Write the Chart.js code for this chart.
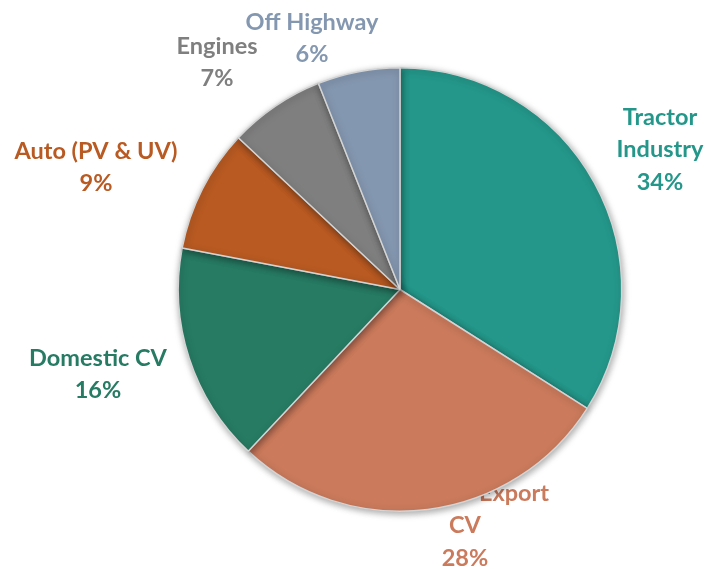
<!DOCTYPE html>
<html>
<head>
<meta charset="utf-8">
<script src="https://cdn.jsdelivr.net/npm/chart.js@4.4.1/dist/chart.umd.min.js"></script>
<style>
    html, body { margin: 0; padding: 0; background: #ffffff; }
    #wrap { width: 710px; height: 569px; position: relative; }
</style>
</head>
<body>
<div id="wrap"><canvas id="pieChart"></canvas></div>
<script>
// Segment share (%)
const categories = ['Tractor Industry', 'Export CV', 'Domestic CV', 'Auto (PV & UV)', 'Engines', 'Off Highway'];
const shares = [34, 28, 16, 9, 7, 6];
const sliceColors = ['#24978a', '#cb7a5c', '#277b63', '#b85a22', '#7f7f7f', '#8497b0'];

// label lines as printed next to each slice
const labelLines = [
    ['Tractor', 'Industry'],
    ['Export', 'CV'],
    ['Domestic CV'],
    ['Auto (PV & UV)'],
    ['Engines'],
    ['Off Highway']
];

// where each label block sits (first line centre), and a per-line x shift
const labelPos = [
    { x: 660, y: 117, dx: [0, 0, 0] },
    { x: 465, y: 493, dx: [49, 0, 0] },
    { x: 98, y: 358, dx: [0, 0] },
    { x: 96, y: 151, dx: [0, 0] },
    { x: 217, y: 46, dx: [0, 0] },
    { x: 312, y: 22, dx: [0, 0] }
];

const outsideLabels = {
    id: 'outsideLabels',
    beforeDatasetsDraw(chart) {
        const ctx = chart.ctx;
        ctx.save();
        ctx.font = 'bold 23.5px Lato, "Open Sans", sans-serif';
        ctx.textAlign = 'center';
        ctx.textBaseline = 'middle';
        const lineH = 32.5;
        categories.forEach((name, i) => {
            const lines = labelLines[i].concat([shares[i] + '%']);
            const p = labelPos[i];
            ctx.fillStyle = sliceColors[i];
            lines.forEach((txt, j) => {
                ctx.fillText(txt, p.x + (p.dx[j] || 0), p.y + j * lineH);
            });
        });
        ctx.restore();
    },
    beforeDatasetDraw(chart) {
        const ctx = chart.ctx;
        ctx.save();
        ctx.shadowColor = 'rgba(0, 0, 0, 0.35)';
        ctx.shadowBlur = 7;
        ctx.shadowOffsetX = 1;
        ctx.shadowOffsetY = 2;
    },
    afterDatasetDraw(chart) {
        chart.ctx.restore();
    }
};

new Chart(document.getElementById('pieChart'), {
    type: 'pie',
    data: {
        labels: categories,
        datasets: [{
            data: shares,
            backgroundColor: sliceColors,
            borderColor: '#d4d4d4',
            borderWidth: 1.5
        }]
    },
    options: {
        responsive: true,
        maintainAspectRatio: false,
        animation: false,
        layout: {
            padding: { top: 67, bottom: 57, left: 177, right: 87 }
        },
        plugins: {
            legend: { display: false },
            tooltip: { enabled: false }
        }
    },
    plugins: [outsideLabels]
});
</script>
</body>
</html>
